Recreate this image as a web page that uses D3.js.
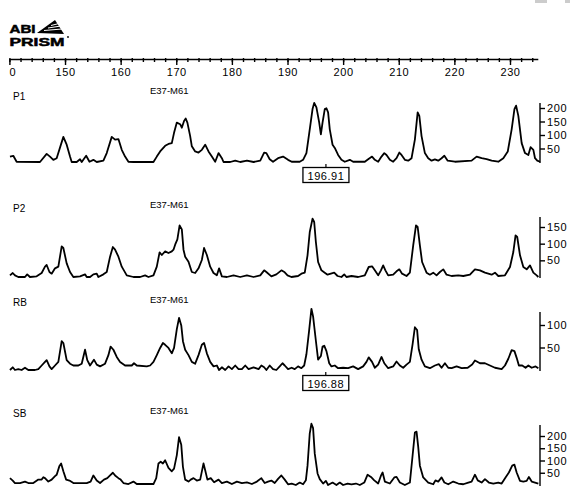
<!DOCTYPE html>
<html>
<head>
<meta charset="utf-8">
<style>
    body {
        margin: 0;
        background: #fff;
    }
    svg {
        display: block;
        font-family: "Liberation Sans", Arial, sans-serif;
    }
    .trace {
        fill: none;
        stroke: #000;
        stroke-width: 1.8px;
        stroke-linejoin: round;
    }
    .ruler path, .ruler line, .yax line, .spine {
        stroke: #000;
        stroke-width: 1.4px;
    }
    .ruler text, .yax text {
        font-size: 11px;
        fill: #000;
        letter-spacing: 0.6px;
    }
    .name { font-size: 10px; }
    .primer { font-size: 9.5px; }
    .badge { font-size: 11.5px; font-weight: bold; stroke: #000; stroke-width: 0.5px; }
    .call rect { fill: #fff; stroke: #000; stroke-width: 1.3px; }
    .call text { font-size: 11px; letter-spacing: 0.5px; }
</style>
</head>
<body>
<svg id="chart" width="570" height="495"></svg>
<script src="https://d3js.org/d3.v7.min.js"></script>
<script>
// size ruler (bp)
var rulerTicks = [140, 150, 160, 170, 180, 190, 200, 210, 220, 230];
var rulerLabels = ["0", "150", "160", "170", "180", "190", "200", "210", "220", "230"];
var minorTicks = d3.range(140, 236, 2);

var panelNames = ["P1", "P2", "RB", "SB"];
var primer = "E37-M61";

// right hand intensity ticks
var yTicks = [
    [50, 100, 150, 200],
    [50, 100, 150],
    [50, 100],
    [50, 100, 150, 200]
];

// called fragment sizes: panel index, size
var calls = [[0, 196.91], [2, 196.88]];

// traces as [size bp, intensity]
var p1 = [[140.1,20],[140.7,23],[141.3,1],[145.5,0],[146.7,30],[147.3,20],[147.9,8],[148.5,14],[149.7,93],[150.3,64],[150.9,20],[151.2,0],[152.1,0],[152.7,10],[153.0,0],[153.8,23],[154.4,1],[155.1,8],[155.7,0],[156.9,5],[157.5,33],[158.4,93],[159.0,83],[159.6,85],[160.2,45],[160.8,20],[161.4,1],[162.3,0],[165.9,0],[166.5,20],[167.1,39],[168.0,60],[168.6,67],[169.2,70],[169.6,108],[170.1,146],[170.7,140],[171.0,127],[171.4,152],[171.7,161],[172.0,146],[172.5,96],[172.8,58],[173.4,39],[174.0,35],[174.6,45],[175.2,64],[175.8,39],[176.4,20],[177.0,1],[177.6,33],[178.2,14],[178.5,0],[179.7,0],[180.6,5],[181.5,0],[182.7,5],[183.9,0],[185.1,5],[185.8,35],[186.2,33],[186.8,10],[187.4,1],[188.3,14],[189.2,20],
    [190.1,8],[190.75,1],[192.2,1],[192.8,8],[193.4,33],[194.0,121],[194.5,196],[194.8,219],[195.2,202],[195.7,146],[196.0,102],[196.3,146],[196.7,196],[197.0,199],[197.3,184],[197.6,121],[198.1,64],[198.5,52],[199.1,26],[199.7,8],[200.3,1],[201.2,8],[201.8,1],[203.9,1],[204.5,10],[205.2,20],[205.7,8],[206.3,1],[206.9,20],[207.4,33],[207.8,26],[208.4,8],[209.0,1],[209.6,14],[210.1,35],[210.5,26],[211.1,8],[211.7,5],[212.3,14],[212.9,83],[213.4,184],[213.7,171],[214.1,96],[214.7,33],[215.3,14],[215.9,5],[216.5,10],[217.1,5],[217.7,14],[218.2,23],[218.8,5],[220.1,1],[223.1,5],[224.0,20],[224.9,14],[225.8,11],[226.7,5],[227.9,1],[228.8,14],[229.6,39],[230.3,121],[230.8,196],[231.1,209],[231.5,171],[232.1,70],[232.7,33],[233.3,26],[233.7,55],[234.2,45],[234.5,14],[234.9,5],[235.4,1]];

var p2 = [[140.1,5],[140.6,12],[141.0,5],[141.6,0],[142.8,0],[143.2,8],[143.7,0],[144.9,2],[145.8,12],[146.4,31],[146.7,36],[147.2,15],[147.6,10],[148.2,26],[148.8,31],[149.4,92],[149.7,87],[150.3,41],[150.9,15],[151.5,0],[152.7,2],[153.6,8],[153.9,0],[154.5,0],[155.1,8],[155.7,10],[156.0,0],[156.9,8],[157.5,15],[158.1,61],[158.6,90],[159.0,82],[159.6,61],[160.2,31],[161.1,5],[162.3,0],[163.5,0],[164.4,5],[165.0,0],[165.9,5],[166.5,31],[167.0,74],[167.4,66],[168.0,77],[168.6,72],[169.2,77],[169.5,82],[169.8,97],[170.2,113],[170.6,155],[171.0,143],[171.3,82],[171.6,61],[172.2,46],[172.8,15],[173.4,12],[174.0,26],[174.6,51],[175.0,87],[175.5,66],[176.1,31],[176.7,12],[177.3,5],[177.7,26],[178.2,2],[179.1,0],[180.3,5],[181.5,0],[182.7,5],[183.9,0],[185.1,5],[185.8,20],[186.2,15],[187.1,2],[188.0,8],[188.9,20],[189.5,14],
    [190.0,5],[190.7,0],[191.9,3],[192.5,10],[193.1,13],[193.6,65],[194.0,135],[194.5,175],[194.8,165],[195.1,105],[195.5,45],[196.1,20],[196.7,13],[197.2,7],[197.8,10],[198.4,13],[199.0,3],[199.7,0],[200.2,8],[200.6,0],[201.5,3],[202.7,0],[203.9,5],[204.6,30],[205.2,32],[205.7,20],[206.3,5],[206.8,20],[207.2,35],[207.6,20],[208.1,5],[209.0,7],[209.6,17],[210.1,23],[210.6,10],[211.4,3],[212.0,13],[212.6,95],[213.1,155],[213.4,150],[213.8,95],[214.2,45],[215.0,13],[215.6,7],[216.2,13],[216.8,5],[217.4,15],[218.0,23],[218.6,7],[219.5,3],[220.7,5],[221.6,3],[222.8,7],[223.7,23],[224.6,20],[225.5,13],[226.7,7],[227.3,13],[227.9,3],[229.1,5],[230.0,30],[230.6,75],[231.0,125],[231.3,120],[231.8,65],[232.4,30],[233.0,23],[233.6,35],[234.2,13],[234.8,5],[235.1,0]];

var rb = [[140.1,0],[140.6,6],[141.0,0],[141.6,2],[142.2,0],[142.8,5],[143.4,0],[144.0,0],[144.6,0],[145.2,2],[145.8,10],[146.4,18],[146.7,22],[147.2,8],[147.6,2],[148.2,10],[148.8,18],[149.4,64],[149.7,60],[150.3,22],[150.9,14],[151.5,10],[152.4,10],[153.0,14],[153.6,45],[154.0,22],[154.5,10],[155.2,23],[155.7,12],[156.3,8],[157.2,14],[157.8,33],[158.2,52],[158.7,45],[159.3,29],[159.9,18],[160.8,10],[162.0,10],[162.4,15],[162.9,10],[164.7,8],[165.3,10],[165.9,18],[166.5,33],[167.1,49],[167.6,60],[168.0,56],[168.6,49],[169.2,37],[169.6,49],[170.1,91],[170.5,116],[170.9,99],[171.2,64],[171.6,45],[172.2,33],[172.8,18],[173.4,14],[174.0,33],[174.6,56],[175.0,60],[175.5,37],[176.1,18],[176.7,8],[177.3,10],[177.7,0],[178.2,6],[178.8,0],[179.4,8],[180.0,2],[180.6,10],[181.2,2],[181.8,2],[182.4,10],[183.0,2],[183.9,6],[184.8,2],[185.3,10],[185.8,6],[186.2,0],[186.8,10],[187.4,2],[188.0,0],[188.6,8],[189.1,15],[189.5,10],
    [190.1,2],[190.75,5],[191.3,2],[191.9,8],[192.5,4],[193.0,10],[193.4,35],[193.9,89],[194.3,136],[194.6,119],[195.1,65],[195.5,23],[196.0,31],[196.3,52],[196.6,54],[197.0,42],[197.5,15],[197.9,8],[198.5,10],[199.1,4],[200.0,5],[200.9,4],[201.8,8],[202.7,2],[203.6,8],[204.2,18],[204.6,28],[205.2,18],[205.7,5],[206.3,12],[206.9,29],[207.4,15],[208.1,4],[209.0,8],[209.6,19],[210.2,10],[210.8,5],[211.4,12],[212.0,18],[212.5,58],[212.9,95],[213.3,89],[213.6,46],[214.1,23],[214.7,8],[215.6,4],[216.5,10],[217.2,13],[217.7,5],[218.3,15],[218.9,5],[219.5,4],[220.4,8],[221.3,4],[222.4,5],[223.2,12],[223.7,21],[224.6,15],[225.5,15],[226.4,10],[227.3,5],[228.5,2],[229.1,10],[229.7,25],[230.3,44],[230.8,42],[231.2,27],[231.6,10],[232.2,10],[232.8,5],[233.3,10],[233.9,5],[234.6,8],[235.1,4]];

var sb = [[140.1,28],[140.6,18],[141.0,8],[141.9,8],[142.8,14],[143.4,8],[144.3,8],[145.2,22],[145.8,22],[146.1,32],[146.4,28],[147.0,14],[147.6,22],[148.2,36],[148.5,42],[149.0,78],[149.3,88],[149.7,56],[150.2,22],[150.8,18],[151.5,8],[152.7,8],[153.9,8],[154.6,14],[155.1,39],[155.7,18],[156.3,8],[157.0,22],[157.6,28],[158.1,39],[158.6,50],[159.0,39],[159.6,28],[160.0,22],[160.5,8],[161.4,4],[162.3,14],[162.9,4],[165.9,4],[166.4,28],[166.8,88],[167.2,95],[167.6,88],[168.0,101],[168.6,70],[169.2,56],[169.6,67],[170.1,122],[170.5,195],[170.9,164],[171.2,74],[171.6,22],[172.2,14],[172.6,22],[173.1,28],[173.7,18],[174.3,22],[174.9,88],[175.2,60],[175.6,22],[176.2,28],[176.8,11],[177.6,22],[178.2,8],[179.1,14],[180.0,4],[180.9,14],[181.8,8],[182.7,11],[183.6,4],[184.5,14],[185.3,28],[185.9,8],[186.5,14],[187.1,18],[187.7,8],[188.3,25],[188.9,39],[189.5,22],
    [190.1,3],[190.75,6],[191.5,0],[192.2,10],[192.8,3],[193.3,19],[193.6,79],[194.0,211],[194.3,250],[194.6,232],[194.9,128],[195.4,47],[195.8,24],[196.4,6],[196.9,17],[197.3,0],[198.1,10],[198.8,0],[199.4,10],[200.0,0],[200.8,6],[201.5,3],[202.3,6],[203.0,0],[203.8,10],[204.4,42],[205.0,33],[205.6,19],[206.3,6],[206.8,38],[207.1,51],[207.5,14],[208.4,6],[209.2,31],[209.6,33],[210.2,10],[211.1,0],[212.0,10],[212.4,100],[212.9,214],[213.2,218],[213.5,156],[213.8,79],[214.4,31],[215.3,10],[216.2,3],[216.6,19],[217.1,14],[217.7,31],[218.2,10],[218.9,3],[219.8,14],[220.7,6],[221.6,3],[222.5,10],[223.1,14],[223.7,42],[224.2,19],[224.9,10],[225.5,24],[226.2,10],[227.0,6],[227.9,10],[228.5,6],[229.2,31],[229.8,51],[230.4,79],[230.8,83],[231.2,51],[231.8,17],[232.4,14],[233.0,17],[233.4,33],[233.9,14],[234.5,10],[235.1,6]];

var traces = [p1, p2, rb, sb];

// layout for each panel: zero line, reference value and its pixel row, top of spine
var layout = [
    {zero: 162, ref: 200, refY: 108, top: 103, nameY: 100, primerY: 94},
    {zero: 277, ref: 150, refY: 227, top: 217, nameY: 212, primerY: 208},
    {zero: 370, ref: 100, refY: 325, top: 312, nameY: 306, primerY: 303},
    {zero: 485, ref: 200, refY: 436, top: 425, nameY: 417, primerY: 414}
];

var svg = d3.select("#chart");

var x = d3.scaleLinear().domain([140, 235]).range([9.4, 537.8]);

// logo: two tight lines like the printed badge
var logo = svg.append("g").attr("class", "logo");
logo.append("text").attr("class", "badge").attr("x", 9.5).attr("y", 33)
    .attr("textLength", 26).attr("lengthAdjust", "spacingAndGlyphs")
    .text("ABI");
logo.append("text").attr("class", "badge").attr("x", 9.5).attr("y", 46)
    .attr("textLength", 55).attr("lengthAdjust", "spacingAndGlyphs")
    .text("PRISM");
logo.append("path").attr("d", "M37,33 L55,20 L64,34 Z").attr("fill", "#000");
[[44, 30.5, 62, 29], [48, 28, 61, 26], [51, 25.5, 59, 23.5]].forEach(function(l) {
    logo.append("line").attr("x1", l[0]).attr("y1", l[1]).attr("x2", l[2]).attr("y2", l[3])
        .attr("stroke", "#fff").attr("stroke-width", 1);
});
logo.append("circle").attr("cx", 68).attr("cy", 37).attr("r", 0.9).attr("fill", "#000");

// faint mark in the top right corner of the scan
svg.append("rect").attr("x", 535).attr("y", 0).attr("width", 12).attr("height", 3).attr("fill", "#ccc");
svg.append("rect").attr("x", 565).attr("y", 0).attr("width", 5).attr("height", 3).attr("fill", "#ccc");

// ruler
var ruler = svg.append("g").attr("class", "ruler").attr("transform", "translate(0,59)");
ruler.call(d3.axisBottom(x).tickValues(minorTicks).tickSize(3).tickSizeOuter(0).tickFormat(""));
var major = svg.append("g").attr("class", "ruler").attr("transform", "translate(0,59)")
    .call(d3.axisBottom(x).tickValues(rulerTicks).tickSize(6).tickPadding(3)
        .tickFormat(function(d, i) { return rulerLabels[i]; }));
major.select(".domain").remove();
major.attr("font-family", null);
ruler.selectAll(".tick line").attr("y1", -1);
major.selectAll(".tick text").filter(function(d) { return d === 140; }).attr("dx", 3);

var line = d3.line();

panelNames.forEach(function(name, k) {
    var L = layout[k];
    var y = d3.scaleLinear().domain([0, L.ref]).range([L.zero, L.refY]);
    var g = svg.append("g");

    g.append("text").attr("class", "name").attr("x", 13).attr("y", L.nameY).text(name);
    g.append("text").attr("class", "primer").attr("x", 150).attr("y", L.primerY).text(primer);

    line.x(function(d) { return x(d[0]); }).y(function(d) { return y(d[1]); });
    g.append("path").attr("class", "trace").attr("d", line(traces[k]));

    g.append("line").attr("class", "spine")
        .attr("x1", 540).attr("x2", 540)
        .attr("y1", L.zero + 1).attr("y2", L.top);
    var ax = g.append("g").attr("class", "yax").attr("transform", "translate(540,0)")
        .call(d3.axisRight(y).tickValues(yTicks[k]).tickSize(5).tickPadding(2));
    ax.select(".domain").remove();
    ax.attr("font-family", null);
});

// called size boxes
calls.forEach(function(c) {
    var L = layout[c[0]];
    var cx = x(c[1]);
    var g = svg.append("g").attr("class", "call");
    g.append("line").attr("x1", cx).attr("x2", cx).attr("y1", L.zero + 2).attr("y2", L.zero + 6)
        .attr("stroke", "#000").attr("stroke-width", 1.2);
    g.append("rect").attr("x", cx - 23).attr("y", L.zero + 5.5).attr("width", 46).attr("height", 15);
    g.append("text").attr("x", cx).attr("y", L.zero + 17.5).attr("text-anchor", "middle")
        .text(c[1].toFixed(2));
});
</script>
</body>
</html>
